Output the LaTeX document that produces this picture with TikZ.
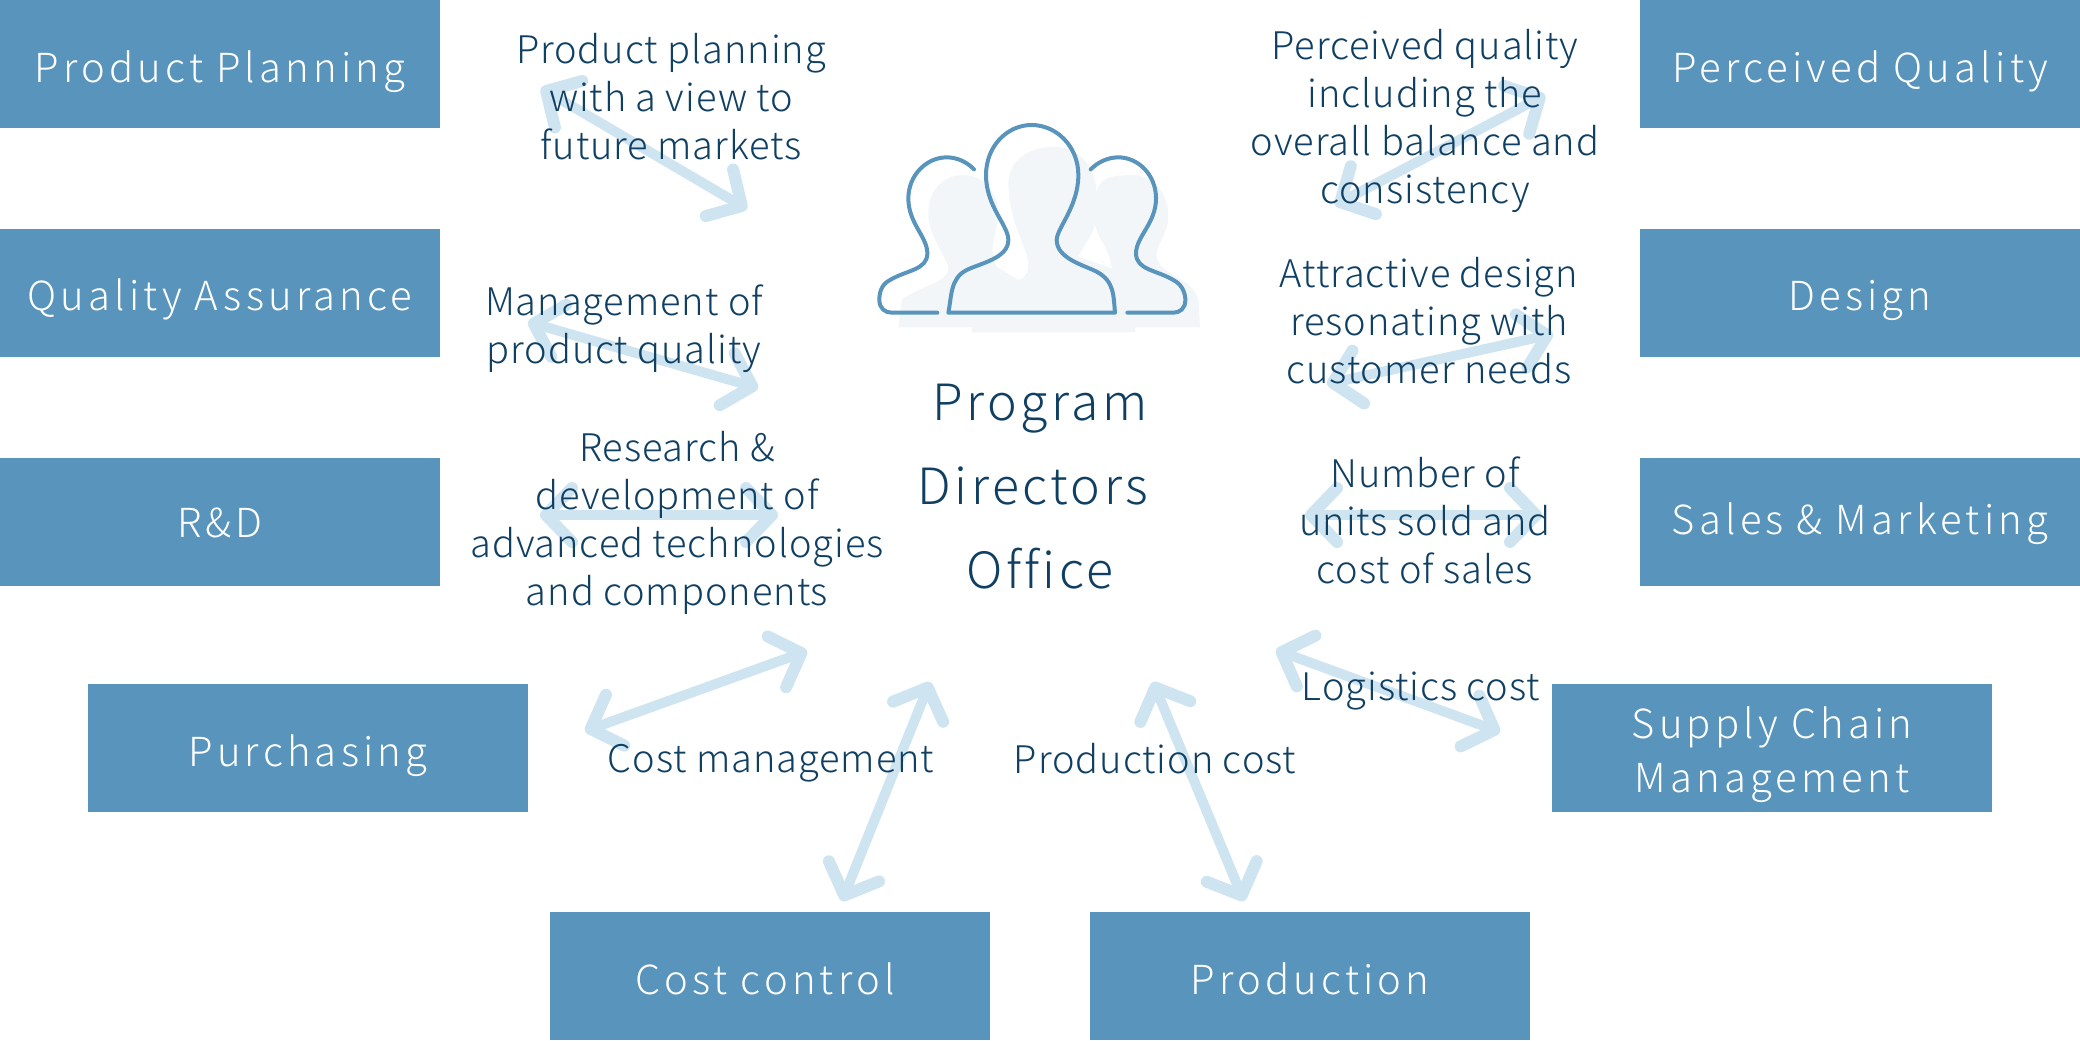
\documentclass[tikz,border=0pt]{standalone}
\usepackage{fontspec}
\setmainfont{Noto Sans CJK JP Light}
\newfontfamily\deptfont{Noto Sans CJK JP Light}[LetterSpace=10.5]
\newfontfamily\notefont{Noto Sans CJK JP Light}[LetterSpace=2.5]
\newfontfamily\officefont{Noto Sans CJK JP Light}[LetterSpace=7, Ligatures=NoCommon]
\usepackage{tikz}
\usetikzlibrary{positioning, arrows.meta}

\definecolor{boxblue}{HTML}{5894BB}
\definecolor{arrowblue}{HTML}{CFE4F1}
\definecolor{labelnavy}{HTML}{0F3F62}
\definecolor{shadowgrey}{HTML}{F2F6F8}

\begin{document}
\begin{tikzpicture}[
    x=0.5pt, y=-0.5pt,
    node distance=50pt,
    dept/.style={fill=boxblue, text=white, minimum width=220pt, minimum height=64pt,
      inner sep=0pt, align=center, text height=22pt, text depth=4pt,
      font=\deptfont\fontsize{20}{27}\selectfont},
    note/.style={text=labelnavy, inner sep=0pt, align=center,
      font=\notefont\fontsize{19}{24}\selectfont},
    link/.style={draw=arrowblue, line width=5pt, line cap=round,
      {Straight Barb[length=13pt, width=27pt, line width=6pt, round]}-{Straight Barb[length=13pt, width=27pt, line width=6pt, round]}},
    outline/.style={draw=boxblue, line width=2pt, line cap=round, line join=round},
]
  \useasboundingbox (0,0) rectangle (2080,1040);

  \coordinate (pp1) at (541,88);
  \coordinate (pp2) at (747,209);
  \coordinate (qa1) at (528,322);
  \coordinate (qa2) at (758,388);
  \coordinate (rd1) at (540,515);
  \coordinate (rd2) at (778,515);
  \coordinate (pu1) at (585,731);
  \coordinate (pu2) at (807,651);
  \coordinate (cc1) at (930,682);
  \coordinate (cc2) at (842,901);
  \coordinate (pr1) at (1153,682);
  \coordinate (pr2) at (1244,901);
  \coordinate (sc1) at (1276,650);
  \coordinate (sc2) at (1500,732);
  \coordinate (sm1) at (1305,515);
  \coordinate (sm2) at (1542,515);
  \coordinate (de1) at (1327,384);
  \coordinate (de2) at (1553,334);
  \coordinate (pq1) at (1335,205);
  \coordinate (pq2) at (1545,95);

  \draw[link] (pp1) -- (pp2);
  \draw[link] (qa1) -- (qa2);
  \draw[link] (rd1) -- (rd2);
  \draw[link] (pu1) -- (pu2);
  \draw[link] (cc1) -- (cc2);
  \draw[link] (pr1) -- (pr2);
  \draw[link] (sc1) -- (sc2);
  \draw[link] (sm1) -- (sm2);
  \draw[link] (de1) -- (de2);
  \draw[link] (pq1) -- (pq2);

  \node[dept] (planning) at (220,64) {Product Planning};
  \node[dept, below=of planning] (assurance) {Quality Assurance};
  \node[dept, below=of assurance, text height=19.5pt] (rnd) {R\&D};
  \node[dept] (purchasing) at (308,748) {Purchasing};
  \node[dept] (costcontrol) at (770,976) {Cost control\hspace*{5pt}};
  \node[dept] (production) at (1310,976) {Production};
  \node[dept, text height=48pt] (supply) at (1772,748) {Supply Chain\\Management};
  \node[dept] (perceived) at (1860,64) {Perceived Quality};
  \node[dept, below=of perceived] (design) {Design};
  \node[dept, below=of design, text height=17pt] (sales) {Sales \& Marketing};

  \node[note] (planningnote) at (671,97) {Product planning\\with a view to\\future markets};
  \node[note] (assurancenote) at (624,329) {Management of\\product quality};
  \node[note] (rndnote) at (677,523) {Research \&\\development of\\advanced technologies\\and components};
  \node[note] (purchasingnote) at (771,763) {Cost management};
  \node[note] (productionnote) at (1155,759) {Production cost};
  \node[note] (supplynote) at (1421,691) {Logistics cost};
  \node[note] (salesnote) at (1425,520) {Number of\\units sold and\\cost of sales};
  \node[note] (designnote) at (1429,321) {Attractive design\\resonating with\\customer needs};
  \node[note] (perceivednote) at (1425,121) {Perceived quality\\including the\\overall balance and\\consistency};

  \node[text=labelnavy, inner sep=0pt, align=center, font=\officefont\fontsize{25}{42}\selectfont] (office) at (1040,487) {Program\\Directors\kern7pt\\Office};

  \begin{scope}[shift={(840,100)}, x=0.16667pt, y=-0.16667pt]
    % shadows
    \fill[shadowgrey] (175,682) -- (185,600) .. controls (230,560) and (330,550) .. (325,500)
      .. controls (300,440) and (265,400) .. (265,340) .. controls (265,270) and (310,225) .. (370,225)
      .. controls (430,225) and (475,280) .. (475,340) .. controls (475,400) and (440,440) .. (470,500)
      -- (535,540) .. controls (570,530) and (570,490) .. (555,450)
      .. controls (530,390) and (505,320) .. (505,250) .. controls (505,180) and (570,140) .. (640,140)
      .. controls (700,140) and (765,180) .. (770,280) .. controls (775,230) and (820,225) .. (880,225)
      .. controls (940,225) and (985,280) .. (985,350) .. controls (985,400) and (945,440) .. (950,470)
      .. controls (960,530) and (1060,530) .. (1075,600) -- (1080,682) -- (885,682) -- (885,697) -- (395,697) -- (395,682) -- cycle;
    \fill[white] (765,375) .. controls (755,410) and (730,440) .. (715,470) -- (815,505) .. controls (810,450) and (775,420) .. (765,375) -- cycle;
    % people
    \draw[outline] (325,638) -- (825,638) .. controls (820,590) and (825,545) .. (770,515)
      .. controls (730,495) and (650,475) .. (650,420) .. controls (650,385) and (715,320) .. (715,225)
      .. controls (715,140) and (650,75) .. (575,75) .. controls (500,75) and (438,140) .. (438,225)
      .. controls (438,320) and (505,375) .. (505,420) .. controls (505,475) and (420,490) .. (380,510)
      .. controls (330,535) and (335,590) .. (325,638) -- cycle;
    \draw[outline] (402,208) .. controls (380,185) and (350,172) .. (320,172)
      .. controls (260,172) and (205,225) .. (205,295) .. controls (205,370) and (262,410) .. (262,460)
      .. controls (262,510) and (200,510) .. (150,540) .. controls (120,555) and (118,585) .. (118,600)
      .. controls (118,625) and (135,638) .. (155,638) -- (292,638);
    \draw[outline] (752,208) .. controls (775,185) and (805,172) .. (835,172)
      .. controls (895,172) and (948,225) .. (948,295) .. controls (948,370) and (888,410) .. (888,460)
      .. controls (888,510) and (950,510) .. (1000,540) .. controls (1030,555) and (1036,585) .. (1036,600)
      .. controls (1036,625) and (1020,638) .. (1000,638) -- (862,638);
  \end{scope}
\end{tikzpicture}
\end{document}
